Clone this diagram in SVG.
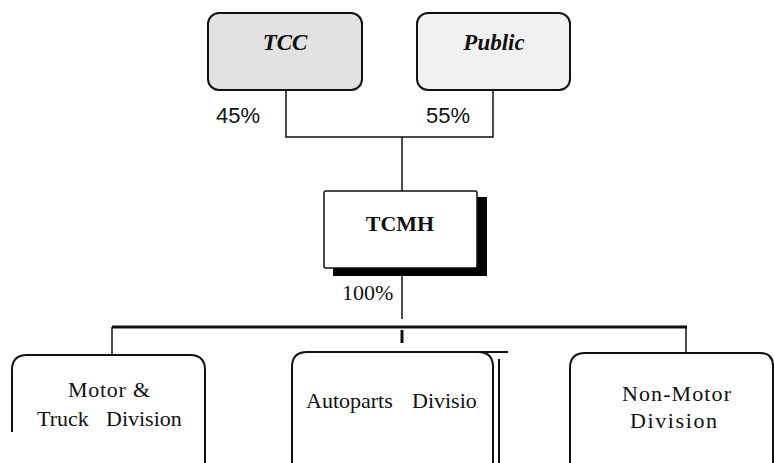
<svg xmlns="http://www.w3.org/2000/svg" width="774" height="463" viewBox="0 0 774 463">
<style>
.box{stroke:#111;stroke-width:2;}
.lbl{font-family:'Liberation Serif','Times New Roman','DejaVu Serif',serif;fill:#111;}
.pct{font-family:'Liberation Sans',Arial,sans-serif;font-size:22px;fill:#111;}
.con{stroke:#111;stroke-width:1.5;fill:none;}
</style>
<defs>
<clipPath id="apclip"><rect x="290" y="340" width="188" height="130"/></clipPath>
</defs>
<rect width="774" height="463" fill="#fff"/>
<g id="connectors">
<polyline class="con" points="286,90 286,137 493,137 493,90"/>
<line class="con" x1="402" y1="137" x2="402" y2="191"/>
<line class="con" x1="402" y1="276" x2="402" y2="319"/>
<line x1="112" y1="327" x2="687" y2="327" stroke="#111" stroke-width="3"/>
<line x1="402" y1="330" x2="402" y2="343" stroke="#111" stroke-width="3"/>
<line class="con" x1="112" y1="327" x2="112" y2="355"/>
<line class="con" x1="686" y1="327" x2="686" y2="353"/>
</g>
<g id="tcc">
<rect class="box" x="208" y="13" width="154" height="77" rx="11" fill="#e2e2e2"/>
<text class="lbl" x="285" y="50" font-size="23" font-weight="bold" font-style="italic" text-anchor="middle">TCC</text>
</g>
<g id="public">
<rect class="box" x="417" y="13" width="153" height="77" rx="11" fill="#f1f1f1"/>
<text class="lbl" x="494" y="50" font-size="23" font-weight="bold" font-style="italic" text-anchor="middle">Public</text>
</g>
<text class="pct" x="216" y="123">45%</text>
<text class="pct" x="426" y="123">55%</text>
<g id="tcmh">
<rect x="333" y="197" width="154" height="79" fill="#000"/>
<rect x="324" y="191" width="153" height="77" rx="2" fill="#fff" stroke="#111" stroke-width="1.5"/>
<text class="lbl" x="400" y="231" font-size="22" font-weight="bold" text-anchor="middle">TCMH</text>
</g>
<text class="lbl" x="342" y="300" font-size="22">100%</text>
<g id="motor">
<path class="box" fill="none" d="M12,432 L12,370 Q12,355 27,355 L190,355 Q205,355 205,370 L205,470"/>
<text class="lbl" x="68" y="397" font-size="22" textLength="82">Motor &amp;</text>
<text class="lbl" y="426" font-size="22"><tspan x="37">Truck</tspan> <tspan x="106">Division</tspan></text>
</g>
<g id="autoparts">
<path class="box" fill="none" d="M292,470 L292,367 Q292,352 307,352 L478,352 Q493,352 493,367 L493,470"/>
<line x1="478" y1="352" x2="508" y2="352" stroke="#111" stroke-width="2"/>
<line x1="499" y1="359" x2="499" y2="470" stroke="#111" stroke-width="2"/>
<text class="lbl" y="408" font-size="22" clip-path="url(#apclip)"><tspan x="306">Autoparts</tspan> <tspan x="412">Division</tspan></text>
</g>
<g id="nonmotor">
<path class="box" fill="none" d="M570,470 L570,368 Q570,353 585,353 L760,353 Q773,353 773,366 L773,470"/>
<text class="lbl" x="622" y="401" font-size="22" textLength="109">Non-Motor</text>
<text class="lbl" x="630" y="428" font-size="22" textLength="87">Division</text>
</g>
</svg>
